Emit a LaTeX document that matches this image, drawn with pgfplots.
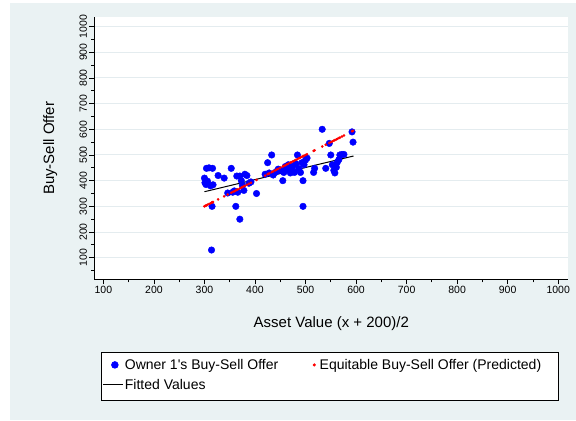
\documentclass[border=0pt]{standalone}
\usepackage{pgfplots}
\pgfplotsset{compat=1.18}
\usepackage{pgfplotstable}
\usepackage{fontspec}
\setmainfont{Liberation Sans}
\definecolor{bgc}{HTML}{EAF2F3}
\definecolor{grd}{HTML}{E4ECEF}

\pgfplotstableread{
x y
300 410
301 392
303 385
304 448
309 450
312 380
316 448
315 300
314 130
317 384
306 398
327 420
339 410
346 352
353 448
356 355
359 360
362 300
364 418
366 355
370 418
370 250
373 400
375 382
378 362
380 425
384 420
388 390
392 395
403 350
420 425
425 470
428 430
433 500
436 422
440 432
443 436
446 445
450 440
455 400
457 432
460 455
463 442
466 462
470 430
472 450
475 456
478 432
481 466
484 500
487 447
490 432
493 470
495 400
495 300
497 462
500 480
503 488
516 432
518 448
533 600
540 448
547 545
550 500
553 462
556 440
558 430
561 452
563 472
566 482
568 500
572 502
576 502
592 590
594 550
}\owner

\pgfplotstableread{
x y
300 300
301 301
303 303
304 304
306 306
309 309
312 312
314 314
315 315
316 316
317 317
327 327
339 339
346 346
353 353
356 356
359 359
362 362
364 364
366 366
370 370
373 373
375 375
378 378
380 380
384 384
388 388
392 392
403 403
420 420
425 425
428 428
433 433
436 436
440 440
443 443
446 446
450 450
455 455
457 457
460 460
463 463
466 466
470 470
472 472
475 475
478 478
481 481
484 484
487 487
490 490
493 493
495 495
497 497
500 500
503 503
516 516
518 518
533 533
540 540
547 547
550 550
553 553
556 556
558 558
561 561
563 563
566 566
568 568
572 572
576 576
592 592
594 594
}\equit

\begin{document}
\begin{tikzpicture}[x=1bp,y=1bp]
\useasboundingbox (0,0) rectangle (576,420);
\fill[white] (0,0) rectangle (576,420);
\fill[bgc] (10,0) rectangle (576,417);
\begin{axis}[
  at={(94.3bp,140.7bp)}, anchor=south west,
  scale only axis, width=474bp, height=262bp,
  xmin=82, xmax=1020, ymin=16, ymax=1036,
  axis background/.style={fill=white},
  axis lines*=left,
  axis line style={black, line width=0.8bp},
  xtick={100,200,...,1000},
  minor xtick={150,250,...,950},
  ytick={100,200,...,1000},
  minor ytick={50,150,...,950},
  tick align=outside,
  major tick length=5bp, minor tick length=3bp,
  every tick/.style={black, line width=0.8bp},
  ymajorgrids,
  major grid style={grd, line width=1bp},
  /pgf/number format/assume math mode=true,
  /pgf/number format/set thousands separator={},
  tick label style={font=\fontsize{10.5bp}{12bp}\selectfont},
  yticklabel style={rotate=90, anchor=south, inner sep=2bp},
  xticklabel style={inner sep=2bp},
  xlabel={Asset Value (x + 200)/2},
  ylabel={Buy-Sell Offer},
  every axis x label/.style={at={(axis description cs:0.5,-0.185)}, anchor=base, font=\fontsize{15bp}{17bp}\selectfont},
  every axis y label/.style={at={(axis description cs:-0.085,0.5)}, rotate=90, anchor=base, font=\fontsize{15bp}{17bp}\selectfont},
  legend columns=2,
  legend style={at={(axis description cs:0.0141,-0.2775)}, anchor=north west,
    draw=black, line width=0.8bp, fill=white, inner xsep=1bp, inner ysep=4bp,
    font=\fontsize{14bp}{16bp}\selectfont,
    column sep=0pt, row sep=0pt,
    nodes={inner xsep=1.5bp, inner ysep=0bp, text height=13bp, text depth=7bp}},
  legend cell align=left,
  clip=false,
]
\addplot[only marks, mark=*, mark size=3.3bp, blue, mark options={fill=blue, draw=blue},
  legend image code/.code={\path (0,0) (20bp,0); \fill[blue] (12bp,1.5bp) circle (3.3bp);}]
  table[x=x,y=y] {\owner};
\addlegendentry{\makebox[183bp][l]{Owner 1\textquotesingle s Buy-Sell Offer}}
\addplot[only marks, mark=*, mark size=1.1bp, red, mark options={fill=red, draw=red},
  legend image code/.code={\path (0,0) (8bp,0); \fill[red] (4.5bp,1.5bp) circle (1.1bp);}]
  table[x=x,y=y] {\equit};
\addlegendentry{\makebox[236bp][l]{Equitable Buy-Sell Offer (Predicted)}}
\addplot[black, line width=1bp, mark=none,
  legend image code/.code={\draw[black, line width=1bp] (0,1.5bp) -- (20bp,1.5bp);}]
  coordinates {(300,357) (595,496)};
\addlegendentry{Fitted Values}
\end{axis}
\end{tikzpicture}
\end{document}
